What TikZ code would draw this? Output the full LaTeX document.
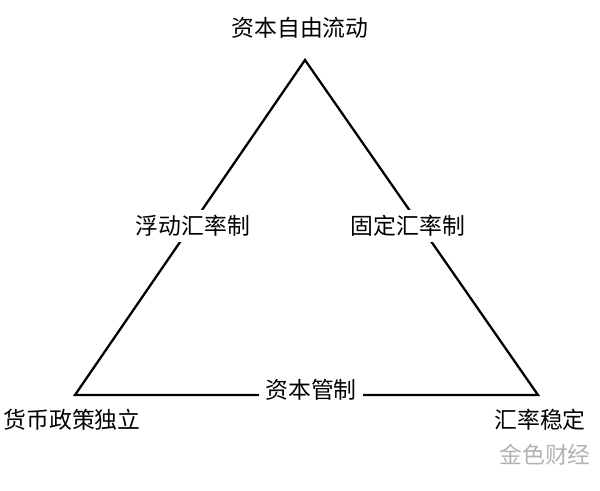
\documentclass[tikz,border=0pt]{standalone}
\usepackage{fontspec}
\setmainfont{Noto Sans CJK SC}
\begin{document}
\begin{tikzpicture}[line width=1.3pt, every node/.style={font=\fontsize{13pt}{15pt}\selectfont}]
    \useasboundingbox (0,0) rectangle (12,9.8);

    % Corners of the triangle
    \coordinate (top) at (6.1, 8.6);
    \coordinate (left) at (1.5, 1.9);
    \coordinate (right) at (10.76, 1.9);

    % Sides
    \draw[line join=miter] (top) -- (right) -- (left) -- cycle;

    % Labels on the sides
    \node at (3.86, 5.28) (float) [fill=white] {浮动汇率制};
    \node at (8.16, 5.28) (fixed) [fill=white] {固定汇率制};
    \node at (6.22, 2.0) (control) [fill=white] {资本管制};

    % Labels at the corners
    \node at (6.0, 9.24) (capital) {资本自由流动};
    \node at (1.44, 1.4) (policy) {货币政策独立};
    \node at (10.8, 1.4) (stable) {汇率稳定};

    % Watermark
    \node at (10.9, 0.7) (mark) [text=gray!60] {金色财经};

\end{tikzpicture}
\end{document}
